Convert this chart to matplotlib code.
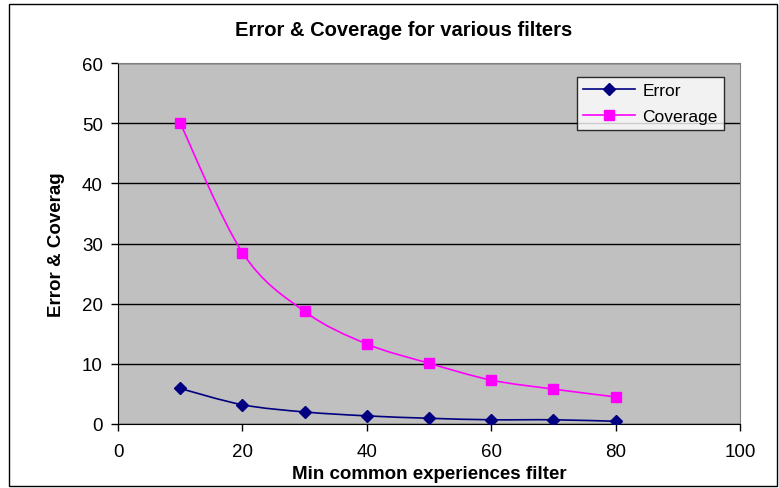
import matplotlib
matplotlib.use("Agg")
import matplotlib.pyplot as plt
import numpy as np
from matplotlib.path import Path
from matplotlib.patches import PathPatch, Rectangle
from matplotlib.lines import Line2D

plt.rcParams["font.family"] = ["Liberation Sans", "DejaVu Sans"]

filters = [10, 20, 30, 40, 50, 60, 70, 80]
error = [5.9, 3.2, 2.0, 1.35, 0.95, 0.7, 0.7, 0.45]
coverage = [50.0, 28.5, 18.7, 13.3, 10.1, 7.3, 5.8, 4.5]

x_ticks = [0, 20, 40, 60, 80, 100]
y_ticks = [0, 10, 20, 30, 40, 50, 60]


def smooth_path(xs, ys):
    # Catmull-Rom style smoothing as cubic Bezier segments (like Excel's smoothed line)
    xs = np.asarray(xs, float)
    ys = np.asarray(ys, float)
    n = len(xs)
    verts = [(xs[0], ys[0])]
    codes = [Path.MOVETO]
    for i in range(n - 1):
        p0 = np.array([xs[max(i - 1, 0)], ys[max(i - 1, 0)]])
        p1 = np.array([xs[i], ys[i]])
        p2 = np.array([xs[i + 1], ys[i + 1]])
        p3 = np.array([xs[min(i + 2, n - 1)], ys[min(i + 2, n - 1)]])
        c1 = p1 + (p2 - p0) / 6.0
        c2 = p2 - (p3 - p1) / 6.0
        verts += [tuple(c1), tuple(c2), tuple(p2)]
        codes += [Path.CURVE4, Path.CURVE4, Path.CURVE4]
    return Path(verts, codes)


fig = plt.figure(figsize=(7.79, 4.89), dpi=100)
fig.patches.append(Rectangle((0.012, 0.004), 0.985, 0.985, transform=fig.transFigure,
                             fill=False, edgecolor="black", linewidth=1.0))

ax = fig.add_axes([0.1515, 0.1309, 0.7985, 0.7381])
ax.set_facecolor("#C0C0C0")
for s in ax.spines.values():
    s.set_color("#808080")
ax.spines["left"].set_color("black")
ax.spines["bottom"].set_color("black")

ax.set_xlim(0, 100)
ax.set_ylim(0, 60)
ax.set_xticks(x_ticks)
ax.set_yticks(y_ticks)
ax.tick_params(direction="out", length=5, width=1, labelsize=13.5, pad=6)
ax.tick_params(axis="x", pad=9)
ax.yaxis.grid(True, color="black", linewidth=1)
ax.set_axisbelow(True)

series = [
    (error, "#000080", "D", 6, "Error"),
    (coverage, "#FF00FF", "s", 7, "Coverage"),
]
handles = []
for vals, col, mk, ms, lab in series:
    ax.add_patch(PathPatch(smooth_path(filters, vals), facecolor="none",
                           edgecolor=col, linewidth=1.2, zorder=3))
    ax.plot(filters, vals, linestyle="none", marker=mk, markersize=ms,
            color=col, zorder=4)
    handles.append(Line2D([], [], color=col, marker=mk, markersize=ms,
                          linewidth=1.2, label=lab))

leg = ax.legend(handles=handles, loc="upper right", bbox_to_anchor=(0.974, 0.961),
                fontsize=12.5, frameon=True, fancybox=False, shadow=False,
                borderpad=0.35, handlelength=3.0, labelspacing=0.6,
                handletextpad=0.4, borderaxespad=0.0)
leg.get_frame().set_edgecolor("black")
leg.get_frame().set_linewidth(1.0)

fig.text(0.518, 0.937, "Error & Coverage for various filters", ha="center",
         va="center", fontsize=14.5, fontweight="bold")
ax.set_xlabel("Min common experiences filter", fontsize=13.5, fontweight="bold", labelpad=3)
ax.set_ylabel("Error & Coverag", fontsize=13.5, fontweight="bold", labelpad=12)

fig.savefig("out.png", dpi=100)
